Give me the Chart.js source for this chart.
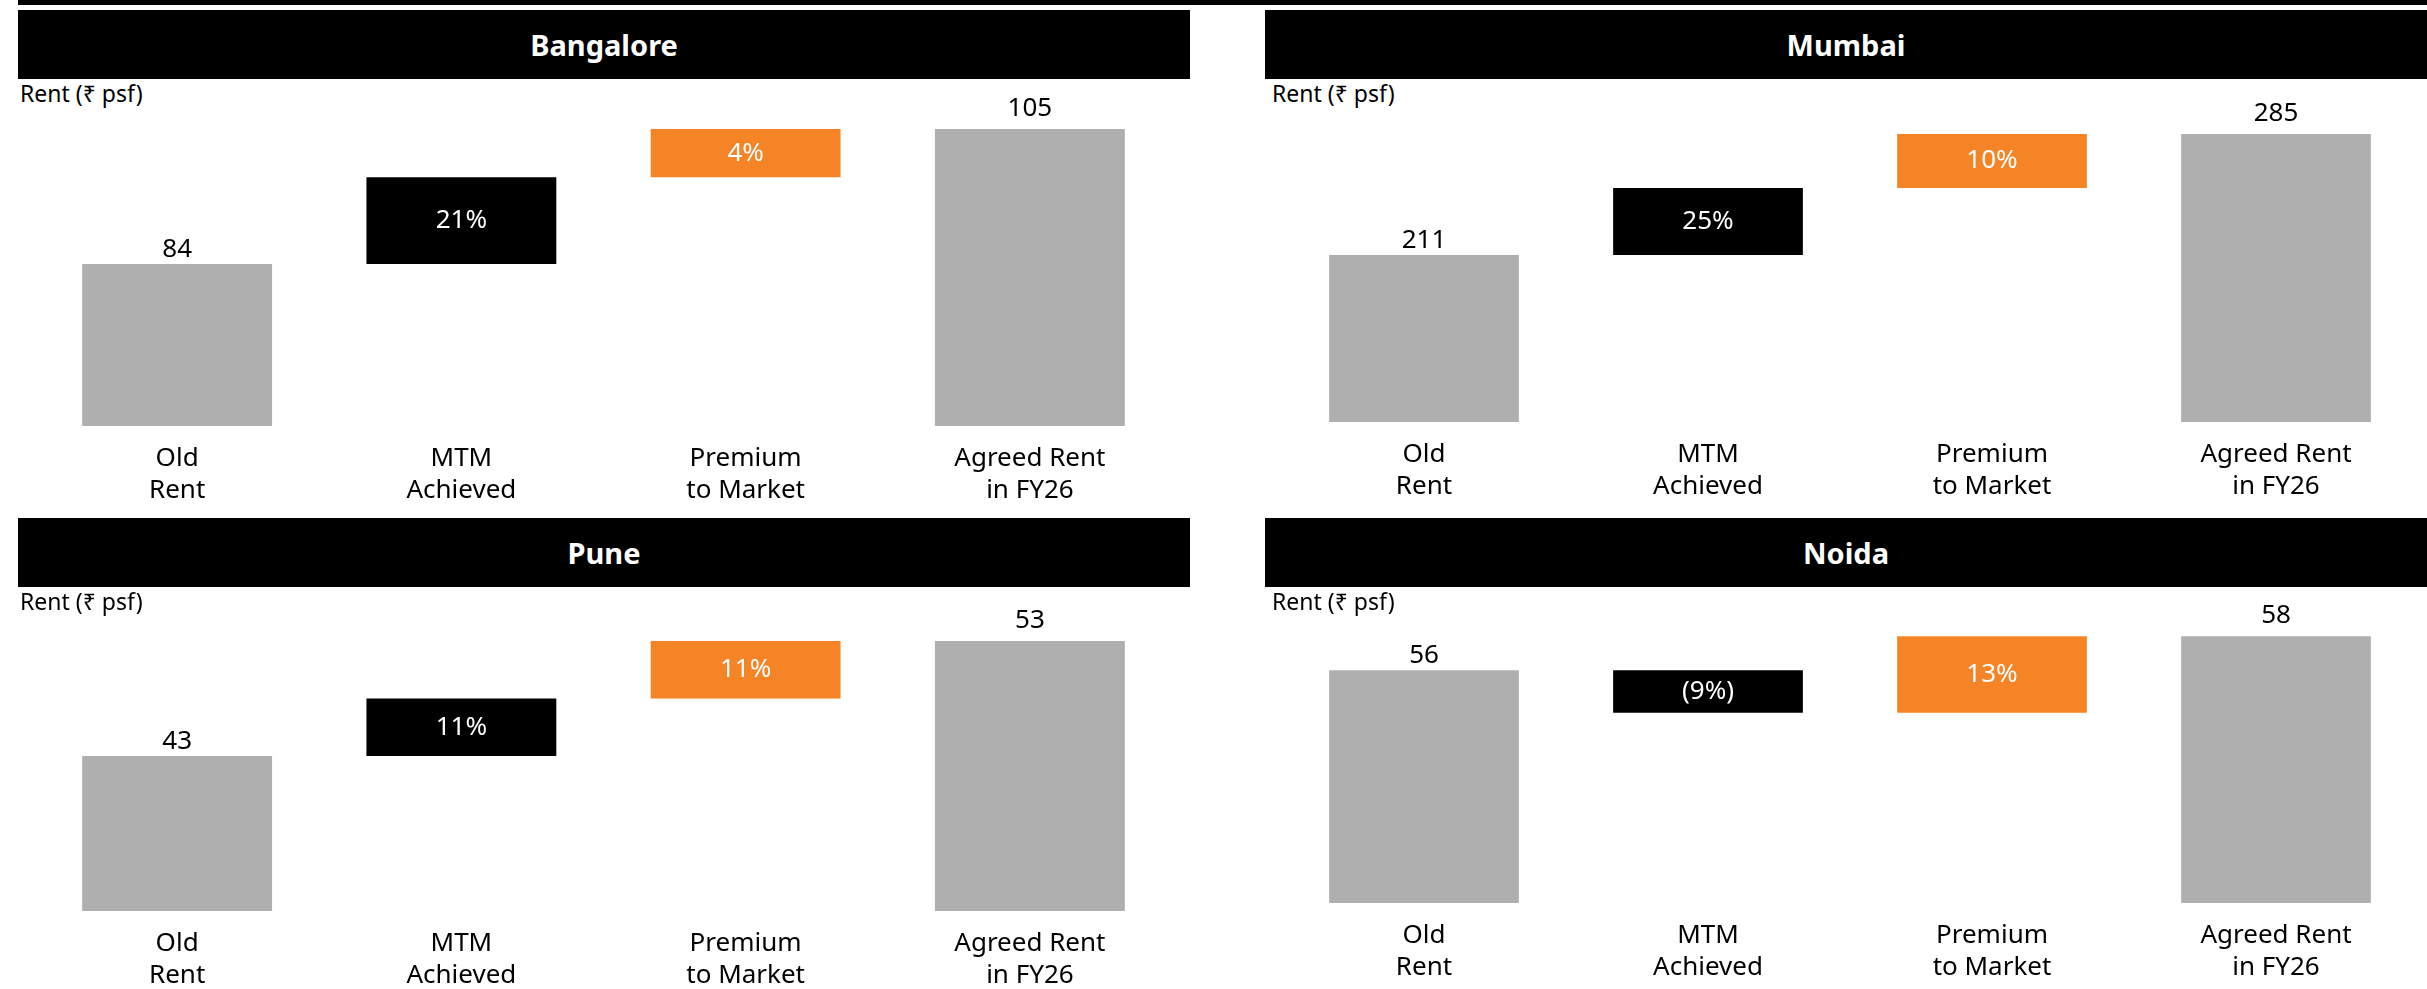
<!DOCTYPE html>
<html>
<head>
<meta charset="utf-8">
<title>Rent walk by city</title>
<script src="https://cdn.jsdelivr.net/npm/chart.js@4.4.1/dist/chart.umd.min.js"></script>
<style>
  body {
    margin: 0;
    width: 2427px;
    height: 989px;
    overflow: hidden;
    position: relative;
    background: #fff;
    font-family: 'Noto Sans', 'DejaVu Sans', sans-serif;
  }
  .top-rule { position: absolute; left: 18px; right: 0; top: 0; height: 5px; background: #000; }
  .city-header {
    position: absolute;
    height: 69px;
    background: #000;
    color: #fff;
    font-size: 29px;
    font-weight: 700;
    display: flex;
    align-items: center;
    justify-content: center;
  }
  .unit-label { position: absolute; font-size: 23px; line-height: 1; color: #000; }
  canvas { position: absolute; }
</style>
</head>
<body>
<div class="top-rule"></div>

<script>
// rent walk: old rent -> MTM achieved -> premium to market -> agreed rent
var cities = ['Bangalore', 'Mumbai', 'Pune', 'Noida'];
var categories = [['Old', 'Rent'], ['MTM', 'Achieved'], ['Premium', 'to Market'], ['Agreed Rent', 'in FY26']];
var oldRent = [84, 211, 43, 56];
var agreedRent = [105, 285, 53, 58];
var mtmChange = [21, 25, 11, -9];
var premiumChange = [4, 10, 11, 13];
// rent level where the MTM step ends and the premium step starts
var afterMtm = [97.5, 252, 48, 53.5];

var barColors = ['#AFAFAF', '#000000', '#F48426', '#AFAFAF'];
var fontFamily = "'Noto Sans', 'DejaVu Sans', sans-serif";
var canvasHeight = 440;

// one panel per city, 2x2 grid
var panels = [
    { left: 18,   top: 79,  width: 1172, plotHeight: 347, padLeft: 17, padRight: 18, unitLeft: 2, yMin: 58.8,  yMax: 112.8 },
    { left: 1265, top: 79,  width: 1162, plotHeight: 343, padLeft: 17, padRight: 9,  unitLeft: 7, yMin: 108.9, yMax: 318.6 },
    { left: 18,   top: 587, width: 1172, plotHeight: 324, padLeft: 17, padRight: 18, unitLeft: 2, yMin: 29.5,  yMax: 57.7 },
    { left: 1265, top: 587, width: 1162, plotHeight: 316, padLeft: 17, padRight: 9,  unitLeft: 7, yMin: 42.3,  yMax: 60.9 }
];

function formatChange(v) {
    return v < 0 ? '(' + Math.abs(v) + '%)' : v + '%';
}

// value labels above the grey bars and % labels inside the step bars
var barLabels = {
    id: 'barLabels',
    afterDatasetsDraw: function (chart) {
        var i = chart.options.plugins.barLabels.city;
        var bars = chart.getDatasetMeta(0).data;
        var ctx = chart.ctx;

        ctx.save();
        ctx.font = '26px ' + fontFamily;
        ctx.textAlign = 'center';

        ctx.fillStyle = '#000';
        ctx.textBaseline = 'alphabetic';
        ctx.fillText(String(oldRent[i]), bars[0].x, bars[0].y - 7);
        ctx.fillText(String(agreedRent[i]), bars[3].x, bars[3].y - 13);

        ctx.fillStyle = '#fff';
        ctx.textBaseline = 'middle';
        ctx.fillText(formatChange(mtmChange[i]), bars[1].x, (bars[1].y + bars[1].base) / 2);
        ctx.fillText(formatChange(premiumChange[i]), bars[2].x, (bars[2].y + bars[2].base) / 2);
        ctx.restore();
    }
};

function addHeader(p, i) {
    var h = document.createElement('div');
    h.className = 'city-header';
    h.style.left = p.left + 'px';
    h.style.top = (p.top - 69) + 'px';
    h.style.width = p.width + 'px';
    h.textContent = cities[i];
    document.body.appendChild(h);

    var u = document.createElement('div');
    u.className = 'unit-label';
    u.style.left = (p.left + p.unitLeft) + 'px';
    u.style.top = (p.top + 3) + 'px';
    u.textContent = 'Rent (\u20B9 psf)';
    document.body.appendChild(u);
}

function drawPanel(p, i) {
    var canvas = document.createElement('canvas');
    canvas.width = p.width;
    canvas.height = canvasHeight;
    canvas.style.left = p.left + 'px';
    canvas.style.top = p.top + 'px';
    document.body.appendChild(canvas);

    new Chart(canvas, {
        type: 'bar',
        data: {
            labels: categories,
            datasets: [{
                data: [
                    oldRent[i],
                    [oldRent[i], afterMtm[i]],
                    [afterMtm[i], agreedRent[i]],
                    agreedRent[i]
                ],
                backgroundColor: barColors,
                borderWidth: 0,
                categoryPercentage: 1,
                barPercentage: 0.668
            }]
        },
        options: {
            responsive: false,
            animation: false,
            layout: { padding: { left: p.padLeft, right: p.padRight, top: 0, bottom: 0 } },
            plugins: {
                legend: { display: false },
                tooltip: { enabled: false },
                barLabels: { city: i }
            },
            scales: {
                x: {
                    grid: { display: false, drawTicks: false },
                    border: { display: false },
                    ticks: {
                        color: '#000',
                        padding: 17,
                        maxRotation: 0,
                        autoSkip: false,
                        font: { family: fontFamily, size: 26, lineHeight: 1.23 }
                    },
                    afterFit: function (scale) {
                        scale.height = canvasHeight - p.plotHeight;
                    }
                },
                y: {
                    display: false,
                    min: p.yMin,
                    max: p.yMax
                }
            }
        },
        plugins: [barLabels]
    });
}

panels.forEach(function (p, i) {
    addHeader(p, i);
    drawPanel(p, i);
});
</script>
</body>
</html>
